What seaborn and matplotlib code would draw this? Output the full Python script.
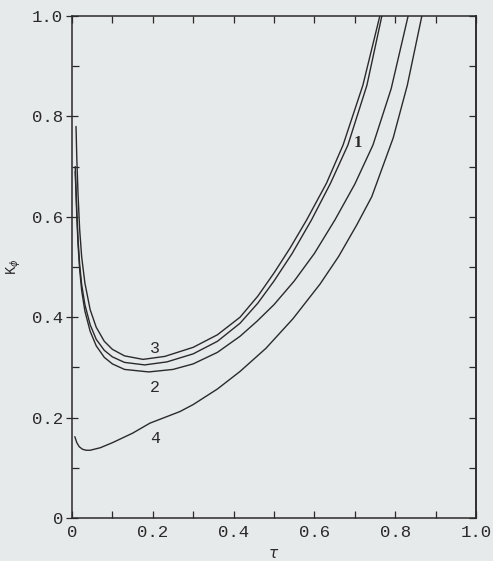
import numpy as np
import pandas as pd
import matplotlib
matplotlib.use("Agg")
import matplotlib.pyplot as plt
from matplotlib.ticker import MultipleLocator, FuncFormatter, NullFormatter
import seaborn as sns

# values (tau, K)
tau_3 = [0.010, 0.012, 0.015, 0.019, 0.024, 0.032, 0.045, 0.060, 0.080, 0.100, 0.130, 0.176,
         0.230, 0.300, 0.360, 0.416, 0.460, 0.500, 0.540, 0.581, 0.630, 0.671, 0.720, 0.762]
k_3 = [0.780, 0.715, 0.645, 0.575, 0.520, 0.468, 0.415, 0.380, 0.352, 0.336, 0.323, 0.316,
       0.322, 0.340, 0.365, 0.400, 0.442, 0.488, 0.538, 0.594, 0.667, 0.743, 0.862, 1.000]

tau_1 = [0.008, 0.010, 0.012, 0.015, 0.019, 0.024, 0.032, 0.045, 0.060, 0.080, 0.100, 0.130,
         0.180, 0.235, 0.300, 0.360, 0.416, 0.460, 0.500, 0.545, 0.593, 0.640, 0.683, 0.730, 0.767]
k_1 = [0.700, 0.655, 0.610, 0.555, 0.505, 0.465, 0.425, 0.385, 0.356, 0.334, 0.321, 0.310,
       0.305, 0.311, 0.327, 0.352, 0.388, 0.428, 0.472, 0.527, 0.594, 0.667, 0.743, 0.862, 1.000]

tau_2 = [0.008, 0.010, 0.012, 0.015, 0.019, 0.024, 0.032, 0.045, 0.060, 0.080, 0.100, 0.130,
         0.190, 0.250, 0.300, 0.360, 0.416, 0.458, 0.500, 0.550, 0.600, 0.651, 0.700, 0.745, 0.790, 0.832]
k_2 = [0.690, 0.645, 0.600, 0.545, 0.495, 0.453, 0.412, 0.372, 0.343, 0.320, 0.307, 0.296,
       0.291, 0.296, 0.307, 0.330, 0.362, 0.392, 0.425, 0.472, 0.527, 0.594, 0.665, 0.743, 0.855, 1.000]

tau_4 = [0.007, 0.012, 0.018, 0.026, 0.035, 0.045, 0.070, 0.100, 0.150, 0.193, 0.267, 0.300,
         0.360, 0.416, 0.480, 0.547, 0.614, 0.660, 0.705, 0.742, 0.795, 0.830, 0.866]
k_4 = [0.162, 0.150, 0.142, 0.137, 0.135, 0.135, 0.140, 0.150, 0.169, 0.189, 0.212, 0.226,
       0.257, 0.292, 0.338, 0.397, 0.466, 0.521, 0.584, 0.640, 0.757, 0.862, 1.000]

curve_names = ["1", "2", "3", "4"]

bg = "#e7eaea"
ink = "#2a2a2a"

sns.set_style("ticks")
plt.rcParams["font.family"] = ["Liberation Mono", "DejaVu Sans"]
plt.rcParams["mathtext.fontset"] = "dejavusans"

frames = []
for name, t, k in [("1", tau_1, k_1), ("2", tau_2, k_2), ("3", tau_3, k_3), ("4", tau_4, k_4)]:
    frames.append(pd.DataFrame({"tau": t, "K": k, "curve": name}))
df = pd.concat(frames, ignore_index=True)

fig = plt.figure(figsize=(4.93, 5.61), dpi=100, facecolor=bg)
ax = fig.add_axes([0.146, 0.0766, 0.8195, 0.8949])
ax.set_facecolor(bg)

sns.lineplot(data=df, x="tau", y="K", hue="curve", palette={c: ink for c in curve_names},
             estimator=None, sort=False, legend=False, lw=1.0, ax=ax)

ax.set_xlim(0, 1)
ax.set_ylim(0, 1)

fmt = FuncFormatter(lambda v, p: "0" if abs(v) < 1e-9 else f"{v:.1f}")
for axis in (ax.xaxis, ax.yaxis):
    axis.set_major_locator(MultipleLocator(0.2))
    axis.set_minor_locator(MultipleLocator(0.1))
    axis.set_major_formatter(fmt)

ax.tick_params(axis="x", which="both", direction="in", top=True, length=5, width=0.9,
               colors=ink, labelsize=12.5, pad=5)
ax.tick_params(axis="y", which="major", direction="inout", length=9, width=0.9,
               colors=ink, labelsize=12.5, pad=2)
ax.tick_params(axis="y", which="minor", direction="in", length=5, width=0.9)

# right-hand ticks point inward only
sec = ax.secondary_yaxis("right")
sec.yaxis.set_major_locator(MultipleLocator(0.1))
sec.yaxis.set_major_formatter(NullFormatter())
sec.tick_params(direction="in", length=5, width=0.9, colors=ink)
sec.spines["right"].set_linewidth(1.1)
sec.spines["right"].set_color(ink)

for s in ax.spines.values():
    s.set_linewidth(1.1)
    s.set_color(ink)

ax.set_xlabel(r"$\tau$", fontsize=11, color=ink, labelpad=5)
ax.set_ylabel(r"K$_\phi$", fontsize=10, color=ink, labelpad=6)

ax.text(0.708, 0.747, "1", fontsize=12, color=ink, family="Liberation Serif",
        ha="center", va="center", fontweight="bold")
ax.text(0.205, 0.338, "3", fontsize=12, color=ink, ha="center", va="center")
ax.text(0.205, 0.260, "2", fontsize=12, color=ink, ha="center", va="center")
ax.text(0.205, 0.159, "4", fontsize=12, color=ink, ha="center", va="center")

fig.savefig("out.png", dpi=100, facecolor=bg)
